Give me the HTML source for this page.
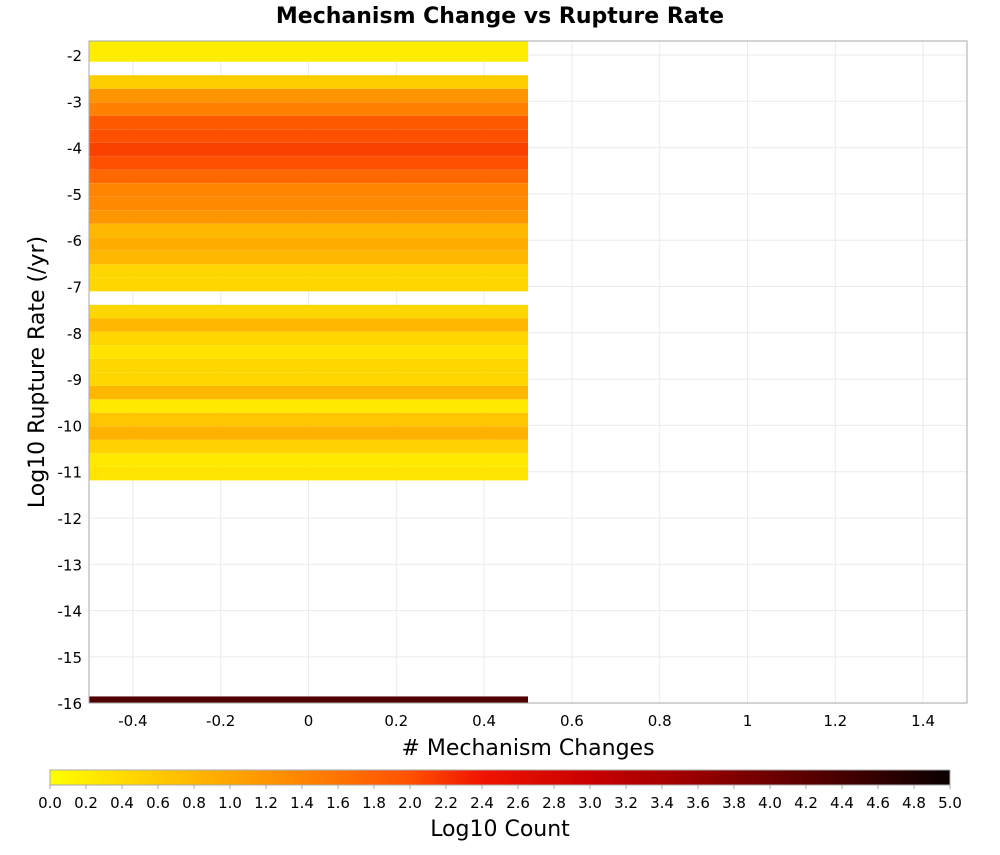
<!DOCTYPE html>
<html><head><meta charset="utf-8"><style>
body{margin:0;background:#fff;}
svg text{font-family:"DejaVu Sans","Liberation Sans",sans-serif;fill:#000;}
</style></head><body>
<svg id="chart" width="1000" height="850" xmlns="http://www.w3.org/2000/svg">
<defs>
<linearGradient id="cbar" x1="0" x2="1" y1="0" y2="0">
<stop offset="0" stop-color="#ffff00"/><stop offset="0.1" stop-color="#ffd200"/>
<stop offset="0.2" stop-color="#ffa500"/><stop offset="0.3" stop-color="#ff7d00"/>
<stop offset="0.4" stop-color="#ff5000"/><stop offset="0.48" stop-color="#f01400"/>
<stop offset="0.6" stop-color="#c80000"/><stop offset="0.7" stop-color="#a00000"/>
<stop offset="0.8" stop-color="#6e0000"/><stop offset="0.9" stop-color="#3c0000"/>
<stop offset="1" stop-color="#0a0000"/>
</linearGradient>
<clipPath id="pc"><rect x="89" y="41" width="878" height="662"/></clipPath>
</defs>
<text x="500" y="23" text-anchor="middle" font-size="22" font-weight="bold">Mechanism Change vs Rupture Rate</text>
<rect x="89" y="41" width="878" height="662" fill="#fff"/>
<g id="grid"></g>
<g id="cells" clip-path="url(#pc)"></g>
<rect x="89" y="41" width="878" height="662" fill="none" stroke="#aaa"/>
<g id="axes"></g>
<text x="528" y="755" text-anchor="middle" font-size="22"># Mechanism Changes</text>
<text transform="translate(44,372) rotate(-90)" text-anchor="middle" font-size="22">Log10 Rupture Rate (/yr)</text>
<rect x="50" y="770" width="900" height="15" fill="url(#cbar)" stroke="#aaa"/>
<g id="cb"></g>
<text x="500" y="836" text-anchor="middle" font-size="22">Log10 Count</text>
</svg>
<script>
const xTicks=[-0.4,-0.2,0,0.2,0.4,0.6,0.8,1,1.2,1.4];
const xTickLabels=["-0.4","-0.2","0","0.2","0.4","0.6","0.8","1","1.2","1.4"];
const yTicks=[-2,-3,-4,-5,-6,-7,-8,-9,-10,-11,-12,-13,-14,-15,-16];
const cbTicks=[0,0.2,0.4,0.6,0.8,1,1.2,1.4,1.6,1.8,2,2.2,2.4,2.6,2.8,3,3.2,3.4,3.6,3.8,4,4.2,4.4,4.6,4.8,5];
const cellX=[0];
// bin centers (log10 rate) and log10 counts
const cellY=[-2.0,-2.583,-2.875,-3.167,-3.458,-3.75,-4.042,-4.333,-4.625,-4.917,-5.208,-5.5,-5.792,-6.083,-6.375,-6.667,-6.958,
-7.542,-7.833,-8.125,-8.417,-8.708,-9.0,-9.292,-9.583,-9.875,-10.167,-10.458,-10.75,-11.042,-16.0];
const cellVal=[0.2,0.55,1.2,1.45,1.9,2.0,2.1,2.0,1.75,1.4,1.35,1.2,0.8,0.9,0.8,0.45,0.45,
0.45,0.8,0.45,0.3,0.45,0.45,0.8,0.25,0.65,0.85,0.5,0.25,0.3,4.3];
const xBin=1.0, yBin=0.29167;
const X=v=>89+(v+0.5)*439, Y=v=>55-(v+2)*46.3;
const stops=[[0,255,255,0],[0.5,255,210,0],[1,255,165,0],[1.5,255,125,0],[2,255,80,0],[2.4,240,20,0],[3,200,0,0],[3.5,160,0,0],[4,110,0,0],[4.5,60,0,0],[5,10,0,0]];
function col(v){v=Math.max(0,Math.min(5,v));for(let i=1;i<stops.length;i++){if(v<=stops[i][0]){const a=stops[i-1],b=stops[i],t=(v-a[0])/(b[0]-a[0]);return `rgb(${[1,2,3].map(j=>Math.round(a[j]+(b[j]-a[j])*t)).join(',')})`;}}return 'rgb(10,0,0)';}
const NS="http://www.w3.org/2000/svg";
function mk(tag,attrs,parent,txt){const e=document.createElementNS(NS,tag);for(const k in attrs)e.setAttribute(k,attrs[k]);if(txt!==undefined)e.textContent=txt;parent.appendChild(e);return e;}
const grid=document.getElementById('grid'),cells=document.getElementById('cells'),axes=document.getElementById('axes'),cb=document.getElementById('cb');
xTicks.forEach((t,i)=>{
 const l=mk('line',{x1:X(t),x2:X(t),y1:41,y2:703,stroke:'#ebebeb'},grid);
 
 
 const tx=mk('text',{x:X(t),y:726,'text-anchor':'middle','font-size':15},axes,xTickLabels[i]);
 
 
});
yTicks.forEach(t=>{
 const l=mk('line',{x1:89,x2:967,y1:Y(t),y2:Y(t),stroke:'#ebebeb'},grid);
 
 
 const tx=mk('text',{x:82,y:Y(t)+6,'text-anchor':'end','font-size':15},axes,String(t));
 
 
});
cellX.forEach(cx=>{
 cellY.forEach((cy,i)=>{
  let top=Y(cy+yBin/2),bot=Y(cy-yBin/2);
  if(i===0)top=Math.min(top,41);
  const r=mk('rect',{x:X(cx-xBin/2),y:top,width:X(cx+xBin/2)-X(cx-xBin/2),height:bot-top,fill:col(cellVal[i])},cells);
  
  
 });
});
cbTicks.forEach(t=>{
 const x=50+t/5*900;
 const l=mk('line',{x1:x,x2:x,y1:785,y2:789,stroke:'#aaa'},cb);
 
 
 const tx=mk('text',{x:x,y:808,'text-anchor':'middle','font-size':15},cb,t.toFixed(1));
 
 
});
</script>
</body></html>
